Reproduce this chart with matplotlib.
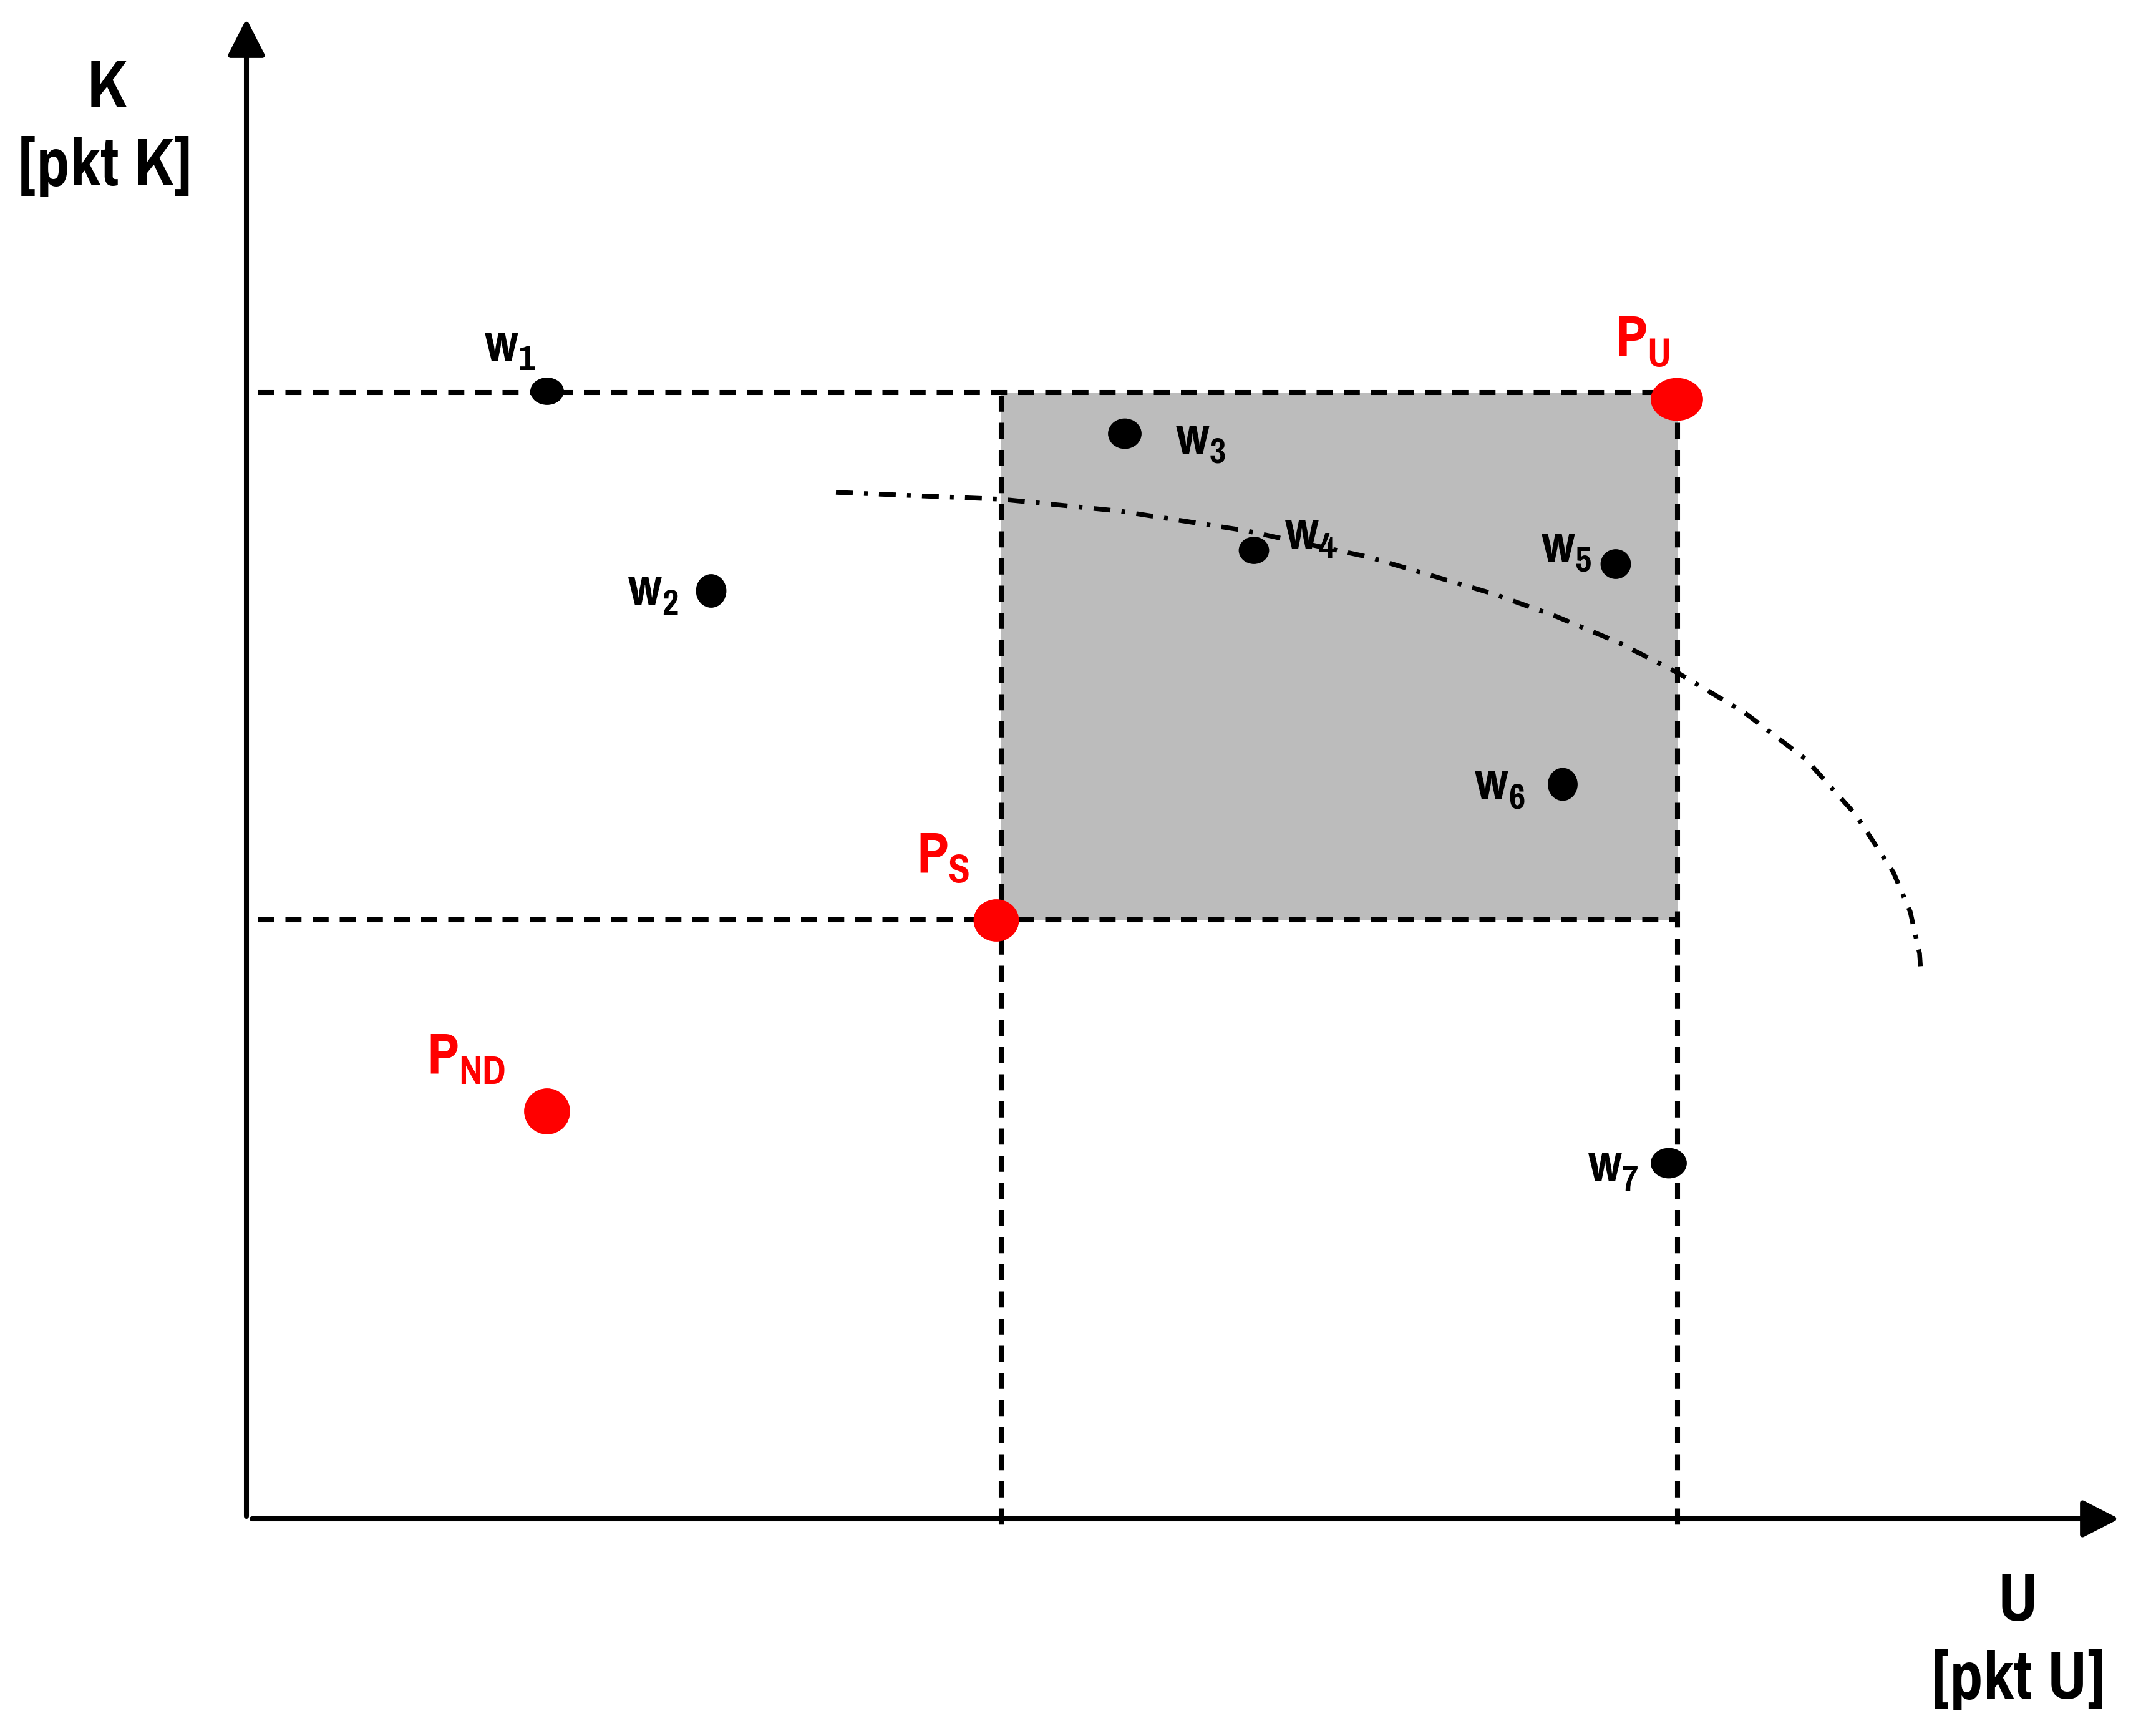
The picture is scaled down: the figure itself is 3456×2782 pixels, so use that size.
import matplotlib
matplotlib.use('Agg')
import matplotlib.pyplot as plt
from matplotlib import font_manager as fm
from matplotlib.patches import Ellipse

# ---------------------------------------------------------------------------
# Data (axis units: U to the right, K upwards, origin at the axes corner)
# ---------------------------------------------------------------------------
W_SUBS = ['1', '2', '3', '4', '5', '6', '7']
W_U    = [4.82, 7.45, 14.08, 16.15, 21.95, 21.10, 22.80]
W_K    = [18.07, 14.87, 17.39, 15.52, 15.30, 11.77, 5.70]

P_SUBS = ['ND', 'S', 'U']
P_U    = [4.82, 12.02, 22.93]
P_K    = [6.53, 9.59, 17.94]

# box spanned by P_S (lower left) and P_U (upper right)
BOX_U = [12.10, 22.94]
BOX_K = [9.60, 18.05]

# dash-dot frontier curve
CURVE_U = [9.45, 12.10, 14.00, 16.00, 18.00, 20.00, 21.00, 22.00, 22.94,
           24.00, 25.00, 25.80, 26.40, 26.67, 26.82, 26.84]
CURVE_K = [16.45, 16.34, 16.15, 15.84, 15.41, 14.82, 14.46, 14.04, 13.56,
           12.93, 12.17, 11.28, 10.36, 9.73, 9.06, 8.76]

# ---------------------------------------------------------------------------
# Styles / layout
# ---------------------------------------------------------------------------
_avail = {f.name for f in fm.fontManager.ttflist}
NARROW = next((n for n in ['Nimbus Sans Narrow', 'Arial Narrow',
                           'Liberation Sans Narrow', 'Pragati Narrow',
                           'IBM Plex Sans Condensed', 'PT Sans Narrow']
               if n in _avail), 'Liberation Sans')
FONT = [NARROW, 'Liberation Sans', 'DejaVu Sans']
RED = '#ff0000'
GREY = '#bcbcbc'

# dot sizes (width, height) in axis units
W_SIZE = [(0.51, 0.41), (0.46, 0.51), (0.51, 0.46), (0.46, 0.41),
          (0.46, 0.45), (0.45, 0.50), (0.55, 0.46)]
P_SIZE = [(0.71, 0.71), (0.70, 0.65), (0.81, 0.66)]

# label offsets from the dot, in pixels (left edge / baseline)
W_OFF = [(-100, 49), (-133, -23), (82, -32), (50, 3),
         (-119, 4), (-141, -23), (-129, -29)]
P_OFF = [(-193, 60), (-128, 77), (-99, 69)]

LW_AX = 2.9
LW_DASH = 2.9
LW_CURVE = 2.7


def label(xy, main, sub, off, size_main, size_sub, color):
    t = ax.annotate(main, xy=xy, xytext=off, textcoords='offset pixels',
                    fontsize=size_main, fontweight='bold', family=FONT,
                    color=color, ha='left', va='baseline', zorder=6)
    ax.annotate(sub, xy=(1, 0), xycoords=t, xytext=(0, 0),
                textcoords='offset pixels', fontsize=size_sub,
                fontweight='bold', family=FONT, color=color,
                ha='left', va='baseline', zorder=6)


fig = plt.figure(figsize=(17.28, 13.91), dpi=200)
ax = fig.add_axes([0, 0, 1, 1])
ax.set_xlim(-3.95, 30.61)
ax.set_ylim(-3.48, 24.34)
ax.axis('off')

# grey box
ax.fill_between(BOX_U, BOX_K[0], BOX_K[1], color=GREY, lw=0, zorder=1)

# dashed guide lines
dash = (0, (3.2, 2.2))
for k in BOX_K:
    ax.plot([0.19, BOX_U[1]], [k, k], color='black', lw=LW_DASH,
            ls=dash, zorder=2)
for u in BOX_U:
    ax.plot([u, u], [BOX_K[1] - 0.05, -0.26], color='black', lw=LW_DASH,
            ls=dash, zorder=2)

# frontier curve
ax.plot(CURVE_U, CURVE_K, color='black', lw=LW_CURVE,
        ls=(0, (3.6, 2.4, 0.8, 2.4)), zorder=3)

# axes with arrows
arrow = dict(arrowstyle='-|>,head_length=18,head_width=9.2',
             mutation_scale=1, color='black', lw=LW_AX,
             shrinkA=0, shrinkB=0)
ax.annotate('', xy=(0, 24.04), xytext=(0, 0.04), arrowprops=arrow, zorder=4)
ax.annotate('', xy=(30.02, 0), xytext=(0.09, 0), arrowprops=arrow, zorder=4)

# points
for u, k, (w, h) in zip(W_U, W_K, W_SIZE):
    ax.add_patch(Ellipse((u, k), w, h, color='black', zorder=5))
for u, k, (w, h) in zip(P_U, P_K, P_SIZE):
    ax.add_patch(Ellipse((u, k), w, h, color=RED, zorder=5))

# point labels
for u, k, s, off in zip(W_U, W_K, W_SUBS, W_OFF):
    label((u, k), 'w', s, off, 33, 22.5, 'black')
for u, k, s, off in zip(P_U, P_K, P_SUBS, P_OFF):
    label((u, k), 'P', s, off, 36.5, 25, RED)

# axis titles
ax_kw = dict(fontsize=42, fontweight='bold', family=FONT,
             ha='center', va='baseline', color='black')
ax.text(-2.24, 22.62, 'K', **ax_kw)
ax.text(-2.27, 21.37, '[pkt K]', **ax_kw)
ax.text(28.39, -1.63, 'U', **ax_kw)
ax.text(28.40, -2.88, '[pkt U]', **ax_kw)

fig.savefig('out.png', dpi=200, facecolor='white')
plt.close(fig)
